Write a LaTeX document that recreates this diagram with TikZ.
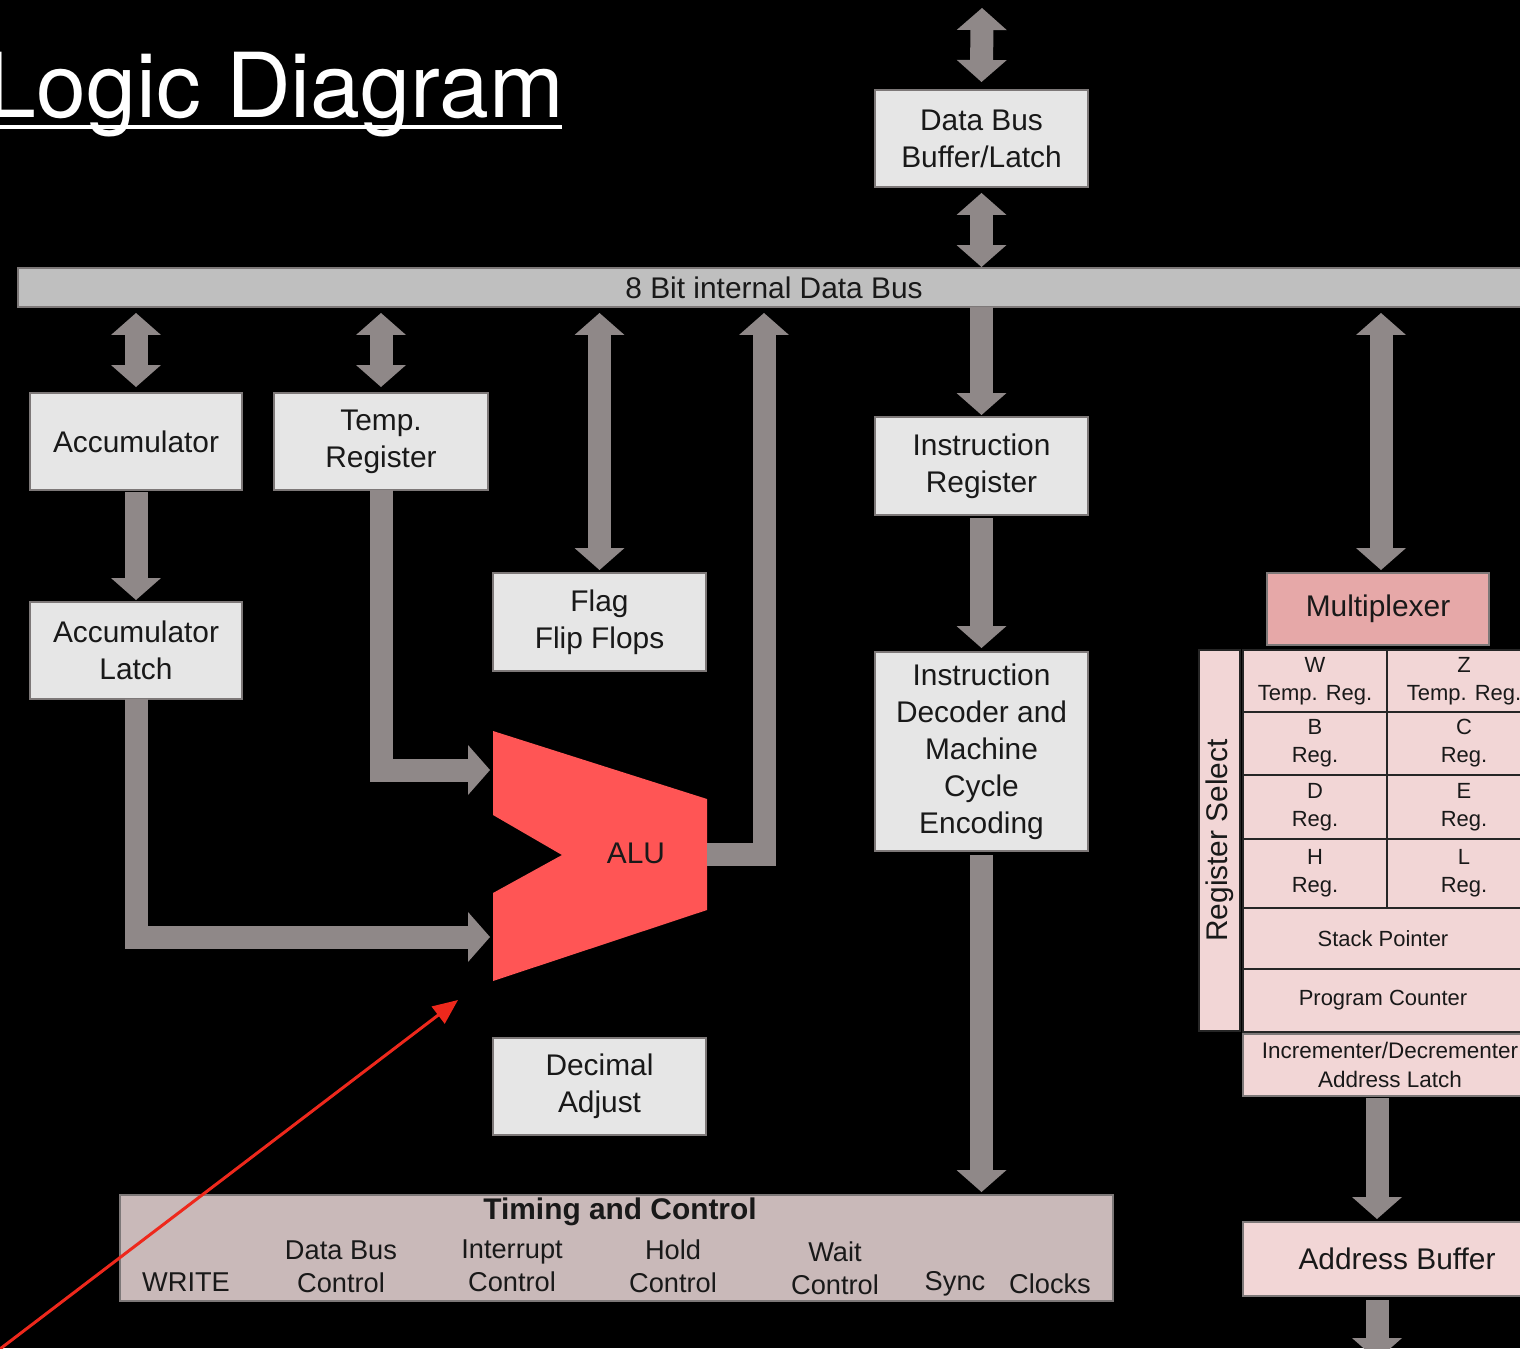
\documentclass[tikz,border=0pt]{standalone}
\usepackage{fontspec}
\setmainfont{Liberation Sans}
\newfontfamily\titlefont{TeX Gyre Heros}
\usetikzlibrary{arrows.meta,calc}
\definecolor{arrowgray}{RGB}{143,136,136}
\definecolor{boxgray}{RGB}{230,230,230}
\definecolor{busgray}{RGB}{191,191,191}
\definecolor{tcpink}{RGB}{201,185,185}
\definecolor{muxpink}{RGB}{230,168,168}
\definecolor{regpink}{RGB}{242,214,214}
\definecolor{alured}{RGB}{255,85,85}
\definecolor{linered}{RGB}{238,40,28}
\definecolor{edgegray}{RGB}{125,120,120}
\definecolor{txt}{RGB}{25,25,25}
\tikzset{
  bigtip/.tip={Triangle[length=0.44cm 0,width=1.0cm 0,line width=0pt 0]},
}
\begin{document}
\begin{tikzpicture}[x=0.02cm,y=-0.02cm,
  every node/.style={inner sep=0pt,outer sep=0pt,text=txt,align=center},
  sz/.style 2 args={minimum width=#1*0.02cm,minimum height=#2*0.02cm},
  blk/.style={draw=edgegray,line width=0.8pt,fill=boxgray,font=\fontsize{17}{21}\selectfont},
  cell/.style={draw=black!85,line width=1.4pt,fill=regpink,font=\fontsize{12.5}{16}\selectfont},
  tclabel/.style={font=\fontsize{15.5}{19}\selectfont},
  fat/.style={draw=arrowgray,line width=0.46cm,line join=miter},
  one/.style={fat,-bigtip},
  two/.style={fat,bigtip-bigtip}]
% background and frame
\fill[black] (0,0) rectangle (1520,1348);
\useasboundingbox (0,0) rectangle (1520,1348);
\clip (0,0) rectangle (1520,1348);

% title
\node[anchor=base west,text=white,font=\titlefont\fontsize{51}{60}\selectfont] (title) at (-13,118) {Logic Diagram};
\draw[white,line width=0.08cm] (title.base west |- 0,127) -- (562,127);

% bus
\node[draw=edgegray,line width=0.6pt,fill=busgray,sz={1512}{39},font=\fontsize{17}{21}\selectfont] (bus) at (774,287.5) {8 Bit internal Data Bus};

% boxes
\node[blk,sz={213}{97}] (dbb) at (981.5,138.5) {Data Bus\\Buffer/Latch};
\node[blk,sz={212}{97}] (acc) at (136,441.5) {Accumulator};
\node[blk,sz={214}{97}] (temp) at (381,441.5) {Temp.\\Register};
\node[blk,sz={212}{97}] (latch) at (136,650.5) {Accumulator\\Latch};
\node[blk,sz={213}{98}] (flag) at (599.5,622) {Flag\\Flip Flops};
\node[blk,sz={213}{98}] (ir) at (981.5,466) {Instruction\\Register};
\node[blk,sz={213}{199}] (dec) at (981.5,751.5) {Instruction\\Decoder and\\Machine\\Cycle\\Encoding};
\node[blk,sz={213}{97}] (decadj) at (599.5,1086.5) {Decimal\\Adjust};

% timing and control
\node[draw=edgegray,line width=0.8pt,fill=tcpink,sz={993}{106}] (timing) at (616.5,1248) {};
\node[font=\bfseries\fontsize{17}{21}\selectfont] (tctitle) at (620,1212) {Timing and Control};
\node[tclabel] (tcwrite) at (186,1282) {WRITE};
\node[tclabel] (tcdbc) at (341,1267) {Data Bus\\Control};
\node[tclabel] (tcint) at (512,1266) {Interrupt\\Control};
\node[tclabel] (tchold) at (673,1266) {Hold\\Control};
\node[tclabel] (tcwait) at (835,1268) {Wait\\Control};
\node[tclabel] (tcsync) at (955,1284) {Sync};
\node[tclabel] (tcclk) at (1050,1284) {Clocks};

% register array
\node[draw=edgegray,line width=0.8pt,fill=muxpink,sz={222}{72},font=\fontsize{17}{21}\selectfont] (mux) at (1378,609) {Multiplexer};
\node[draw=black!85,line width=1.2pt,fill=regpink,rotate=90,sz={381}{41},font=\fontsize{17}{21}\selectfont] (regsel) at (1219.5,840.5) {Register Select};
\node[cell,sz={144}{62}] (wreg) at (1315,681) {W\\Temp. Reg.};
\node[cell,sz={154}{62}] (zreg) at (1464,681) {Z\\Temp. Reg.};
\node[cell,sz={144}{63}] (breg) at (1315,743.5) {B\\Reg.};
\node[cell,sz={154}{63}] (creg) at (1464,743.5) {C\\Reg.};
\node[cell,sz={144}{64}] (dreg) at (1315,807) {D\\Reg.};
\node[cell,sz={154}{64}] (ereg) at (1464,807) {E\\Reg.};
\node[cell,sz={144}{69}] (hreg) at (1315,873.5) {H\\Reg.};
\node[cell,sz={154}{69}] (lreg) at (1464,873.5) {L\\Reg.};
\node[cell,sz={280}{61}] (sp) at (1383,938.5) {Stack Pointer};
\node[cell,sz={280}{63}] (pc) at (1383,1000.5) {Program Counter};
\node[draw=edgegray,line width=0.8pt,fill=regpink,sz={294}{62},font=\fontsize{12.8}{16}\selectfont] (inc) at (1390,1065) {Incrementer/Decrementer\\Address Latch};
\node[draw=edgegray,line width=0.8pt,fill=regpink,sz={308}{74},font=\fontsize{17}{21}\selectfont] (addr) at (1397,1259) {Address Buffer};

% ALU
\fill[alured] (493,731) -- (707,799) -- (707,910) -- (493,981) -- (493,893) -- (562,855) -- (493,815) -- cycle;
\node[font=\fontsize{17}{21}\selectfont] (alu) at (636,853) {ALU};
\coordinate (aluin1) at (490,770);
\coordinate (aluin2) at (490,937);
\coordinate (aluout) at (707,854);
\coordinate (aluup) at (764,313);
\coordinate (dbbtop) at (982,8);
\coordinate (addrout) at (1377,1360);
\coordinate (redstart) at (-4,1352);
\coordinate (redend) at (458,1000);

% connectors
\draw[two] (dbbtop) -- ($(dbb.north)+(0,-8)$);
\draw[two] ($(dbb.south)+(0,6)$) -- ($(dbb.south |- bus.north)+(0,-1)$);
\draw[two] ($(acc.north |- bus.south)+(0,6)$) -- ($(acc.north)+(0,-6)$);
\draw[two] ($(temp.north |- bus.south)+(0,6)$) -- ($(temp.north)+(0,-6)$);
\draw[two] ($(flag.north |- bus.south)+(0,6)$) -- ($(flag.north)+(0,-3)$);
\draw[two] ($(mux.north |- bus.south)+(3,6)$) -- ($(mux.north)+(3,-3)$);
\draw[one] (ir.north |- bus.south) -- ($(ir.north)+(0,-2)$);
\draw[one] ($(ir.south)+(0,3)$) -- ($(dec.north)+(0,-4)$);
\draw[one] ($(dec.south)+(0,4)$) -- ($(dec.south |- timing.north)+(0,-3)$);
\draw[one] ($(acc.south)+(0,2)$) -- ($(latch.north)+(0,-2)$);
\draw[one] (temp.south) |- (aluin1);
\draw[one] (latch.south) |- (aluin2);
\draw[one] (aluout) -| (aluup);
\draw[one] ($(inc.south)+(-13,2)$) -- ($(inc.south |- addr.north)+(-13,-3)$);
\draw[one] ($(addr.south)+(-20,4)$) -- (addrout);

% red pointer
\draw[linered,line width=0.06cm,-{Triangle[length=0.5cm 0,width=0.42cm 0]}] (redstart) -- (redend);
\end{tikzpicture}
\end{document}
